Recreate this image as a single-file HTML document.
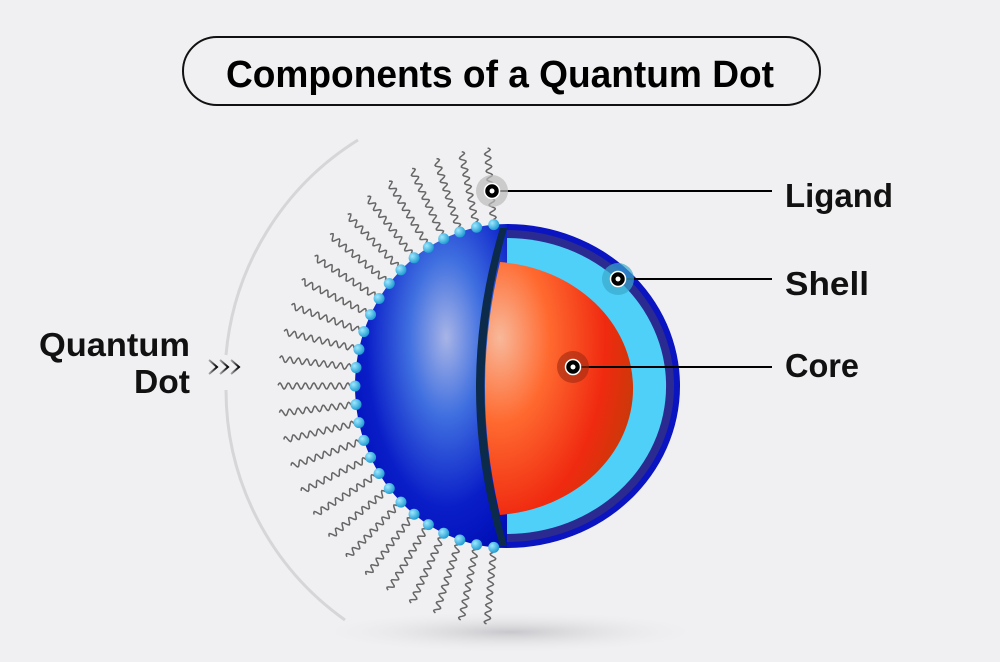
<!DOCTYPE html>
<html><head><meta charset="utf-8"><style>
html,body{margin:0;padding:0;background:#f0f0f2;}
svg{display:block}
text{font-family:"Liberation Sans",sans-serif;}
</style></head><body>
<svg id="s" width="1000" height="662" viewBox="0 0 1000 662" xmlns="http://www.w3.org/2000/svg">
<defs>
<radialGradient id="blue" cx="0.6" cy="0.35" r="0.7">
<stop offset="0" stop-color="#a8b4e6"/><stop offset="0.35" stop-color="#3f6fe0"/><stop offset="0.75" stop-color="#0a1ec8"/><stop offset="1" stop-color="#0010b8"/>
</radialGradient>
<radialGradient id="core" cx="0.1" cy="0.3" r="0.95">
<stop offset="0" stop-color="#f8b89a"/><stop offset="0.35" stop-color="#ff6a30"/><stop offset="0.75" stop-color="#f02a10"/><stop offset="1" stop-color="#c83a08"/>
</radialGradient>
<radialGradient id="bead" cx="0.35" cy="0.35" r="0.7">
<stop offset="0" stop-color="#9ee8ff"/><stop offset="1" stop-color="#1a98d0"/>
</radialGradient>
<radialGradient id="shadow" cx="0.5" cy="0.5" r="0.5">
<stop offset="0" stop-color="#c8c8cc"/><stop offset="1" stop-color="#f0f0f2" stop-opacity="0"/>
</radialGradient>
<linearGradient id="chev" x1="0" x2="1"><stop offset="0" stop-color="#aaa"/><stop offset="1" stop-color="#000"/></linearGradient>
</defs>
<ellipse cx="510" cy="632" rx="200" ry="22" fill="url(#shadow)"/>
<path d="M358 140 A282 282 0 0 0 226 355" fill="none" stroke="#d6d6d8" stroke-width="3"/>
<path d="M226 390 A282 282 0 0 0 345 620" fill="none" stroke="#d6d6d8" stroke-width="3"/>
<g id="lig"></g>
<path d="M507 224 A152 162 0 0 0 507 548 Z" fill="url(#blue)"/>
<path d="M507 224 A173 162 0 0 1 507 548 Z" fill="#0a14c0"/>
<path d="M507 230 A166 155 0 0 1 507 542 Z" fill="#2a2a90"/>
<path d="M507 238 A158 147 0 0 1 507 534 Z" fill="#4fd0f8"/>
<path d="M500 262 A146 127 0 0 1 500 515 Q470 388 500 262 Z" fill="url(#core)"/>
<path d="M507 228 Q462 388 507 546 L500 546 Q452 388 500 228 Z" fill="#0c2a4a"/>
<g id="beads"></g>
<rect x="183" y="37" width="637" height="68" rx="34" fill="none" stroke="#111" stroke-width="2"/>
<text x="226" y="87" font-size="38" font-weight="bold" textLength="548" lengthAdjust="spacingAndGlyphs">Components of a Quantum Dot</text>
<line x1="492" y1="191" x2="772" y2="191" stroke="#000" stroke-width="2"/>
<line x1="618" y1="279" x2="772" y2="279" stroke="#000" stroke-width="2"/>
<line x1="573" y1="367" x2="772" y2="367" stroke="#000" stroke-width="2"/>
<circle cx="492" cy="191" r="16" fill="#bbb" opacity="0.7"/>
<circle cx="618" cy="279" r="16" fill="#3aa8cc" opacity="0.7"/>
<circle cx="573" cy="367" r="16" fill="#a02a10" opacity="0.6"/>
<g fill="#000" stroke="#fff" stroke-width="1.5">
<circle cx="492" cy="191" r="7.5"/><circle cx="618" cy="279" r="7.5"/><circle cx="573" cy="367" r="7.5"/></g>
<g fill="#fff"><circle cx="492" cy="191" r="2.5"/><circle cx="618" cy="279" r="2.5"/><circle cx="573" cy="367" r="2.5"/></g>
<g font-size="33" font-weight="bold" fill="#111">
<text x="785" y="207" textLength="108" lengthAdjust="spacingAndGlyphs">Ligand</text>
<text x="785" y="295" textLength="84" lengthAdjust="spacingAndGlyphs">Shell</text>
<text x="785" y="377" textLength="74" lengthAdjust="spacingAndGlyphs">Core</text>
<text x="190" y="356" text-anchor="end" textLength="151" lengthAdjust="spacingAndGlyphs">Quantum</text>
<text x="190" y="393" text-anchor="end" textLength="56" lengthAdjust="spacingAndGlyphs">Dot</text>
</g>
<g fill="none" stroke="url(#chev)" stroke-width="2">
<path d="M209 360 L217 367 L209 374"/><path d="M220 360 L228 367 L220 374"/><path d="M231 360 L239 367 L231 374"/>
</g>
</svg>
<script>
var ns="http://www.w3.org/2000/svg",cx=507,cy=386,lig=document.getElementById('lig'),bd=document.getElementById('beads');
var n=27;
for(var i=0;i<n;i++){
 var th=(-85+i*170/(n-1))*Math.PI/180;
 var dx=-Math.cos(th),dy=Math.sin(th);
 var bx=cx+dx*152,by=cy+dy*162;
 var L=Math.hypot(dx,dy);dx/=L;dy/=L;
 var px=-dy,py=dx,d="";
 for(var s=0;s<=72;s+=1){
  var w=3*Math.sin(s/8.5*2*Math.PI);
  var x=bx+dx*(s+5)+px*w,y=by+dy*(s+5)+py*w;
  d+=(s?"L":"M")+x.toFixed(1)+" "+y.toFixed(1);
 }
 var p=document.createElementNS(ns,"path");p.setAttribute("d",d);p.setAttribute("fill","none");p.setAttribute("stroke","#666");p.setAttribute("stroke-width","1.5");lig.appendChild(p);
 var c=document.createElementNS(ns,"circle");c.setAttribute("cx",bx);c.setAttribute("cy",by);c.setAttribute("r","5.5");c.setAttribute("fill","url(#bead)");bd.appendChild(c);
}
</script>
</body></html>
